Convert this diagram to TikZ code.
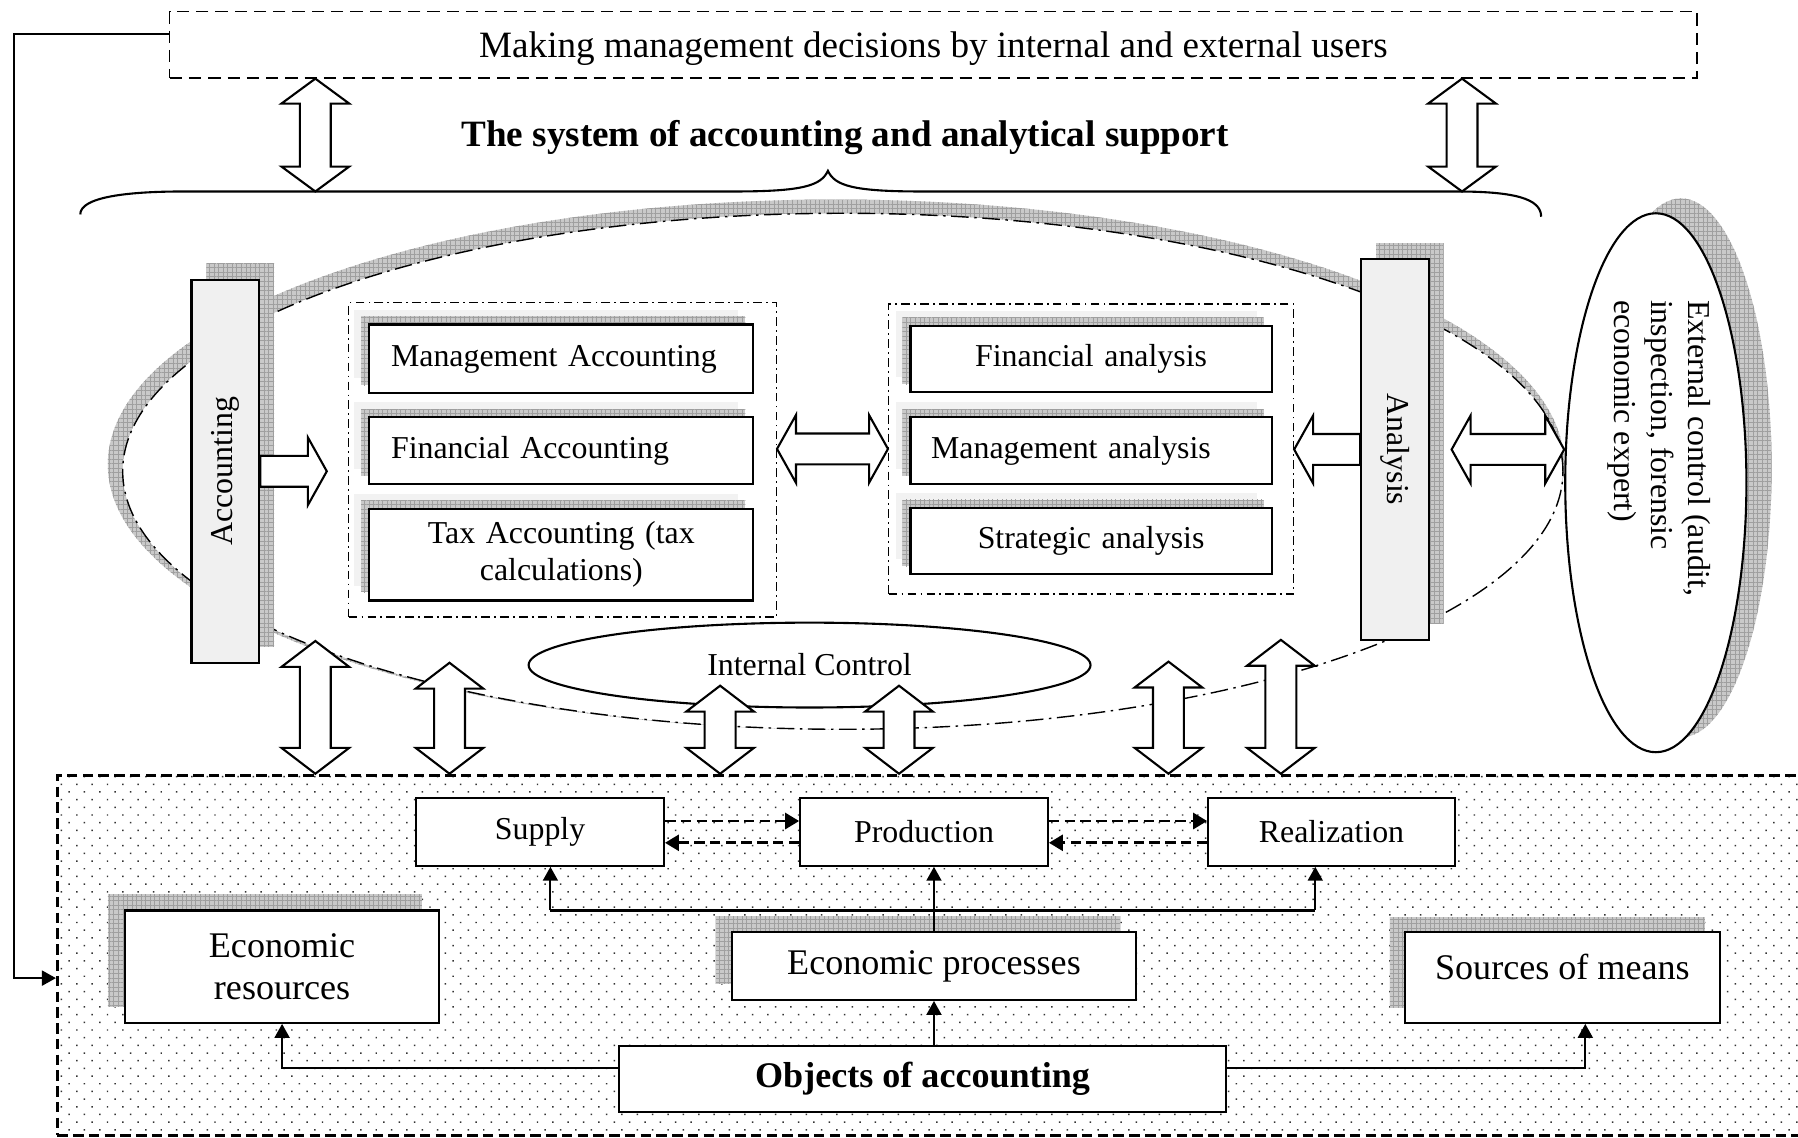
\documentclass[tikz,border=0pt]{standalone}
\usepackage{fontspec}
\setmainfont{Liberation Serif}
\usetikzlibrary{arrows.meta,calc,positioning,shapes.geometric,shadows,patterns.meta}

\newlength\pu
\setlength\pu{0.0115cm}
\newcommand\bigfont{\fontsize{10.6}{12.7}\selectfont}
\newcommand\midfont{\fontsize{10.3}{11.8}\selectfont}
\newcommand\boxfont{\fontsize{9.1}{10.6}\selectfont}

% hollow block arrows: head length, head and shaft half widths
\def\hlen{0.25cm}
\def\hwid{0.34cm}
\def\swid{0.155cm}

\newcommand{\dblarrow}[2]{%
  \coordinate (dA) at ($(#1)!\hlen!(#2)$);
  \coordinate (dB) at ($(#2)!\hlen!(#1)$);
  \draw[blockarr] (#1) -- ($(dA)!\hwid!90:(#2)$) -- ($(dA)!\swid!90:(#2)$)
    -- ($(dB)!\swid!-90:(#1)$) -- ($(dB)!\hwid!-90:(#1)$) -- (#2)
    -- ($(dB)!\hwid!90:(#1)$) -- ($(dB)!\swid!90:(#1)$)
    -- ($(dA)!\swid!-90:(#2)$) -- ($(dA)!\hwid!-90:(#2)$) -- cycle;}

\newcommand{\sglarrow}[2]{%
  \coordinate (sB) at ($(#2)!\hlen!(#1)$);
  \draw[blockarr] ($(#1)!\swid!-90:(#2)$) -- ($(sB)!\swid!90:(#1)$)
    -- ($(sB)!\hwid!90:(#1)$) -- (#2) -- ($(sB)!\hwid!-90:(#1)$)
    -- ($(sB)!\swid!-90:(#1)$) -- ($(#1)!\swid!90:(#2)$) -- cycle;}

\begin{document}
\begin{tikzpicture}[x=\pu, y=-\pu,
  grey shade/.style={fill=gray!42},
  grey grid/.style={pattern={Hatch[angle=0,distance=1.3pt,line width=0.2pt]}, pattern color=gray!75},
  castshadow/.style 2 args={general shadow={shadow xshift=#1\pu, shadow yshift=#2\pu, grey shade},
                            general shadow={shadow xshift=#1\pu, shadow yshift=#2\pu, grey grid}},
  lightshadow/.style 2 args={general shadow={shadow xshift=#1\pu, shadow yshift=#2\pu, fill=gray!10}},
  topbox/.style={draw, thin, dash pattern=on 3.5pt off 2pt, minimum width=1332\pu, minimum height=58\pu,
                 text depth=0pt, font=\bigfont},
  bar/.style={draw, semithick, fill=gray!12, font=\boxfont, minimum width=59\pu, inner sep=0pt, castshadow={13}{14}},
  grpbox/.style={draw, thin, dash pattern=on 2.5pt off 1.2pt on 0.5pt off 1.2pt, inner sep=0pt},
  subbox/.style={draw, semithick, fill=white, font=\boxfont, text width=297\pu, inner xsep=19\pu,
                 inner ysep=0pt, minimum height=60\pu, align=left, lightshadow={-13}{13}, castshadow={-7}{7}},
  anabox/.style={subbox, text width=279\pu, inner xsep=18\pu, minimum height=58\pu, align=center},
  extell/.style={ellipse, draw, semithick, fill=white, minimum width=158\pu, minimum height=470\pu,
                 inner sep=0pt, castshadow={22}{13}},
  dotarea/.style={draw, thick, dash pattern=on 3pt off 1.5pt, pattern={Dots[distance=3.1pt,angle=45,radius=0.3pt]},
                  pattern color=black!80, minimum width=1522\pu, minimum height=314\pu, inner sep=0pt},
  stagebox/.style={draw, semithick, fill=white, font=\boxfont, minimum width=216\pu, minimum height=59\pu},
  ecobox/.style={draw, semithick, fill=white, font=\midfont, align=center, inner sep=1pt},
  blockarr/.style={draw, semithick, fill=white, line join=miter},
  conn/.style={semithick, -{Triangle[length=1.4mm,width=1.5mm]}},
  flow/.style={thick, dash pattern=on 3pt off 1.5pt, -{Triangle[length=1.4mm,width=1.6mm]}}
]
\useasboundingbox (0,0) rectangle (1568,992);

% decisions on top
\node[topbox] (dec) at (814,39) {Making management decisions by internal and external users};

% title and brace
\node[font=\bigfont\bfseries] (title) at (737,120) {The system of accounting and analytical support};
\draw[semithick] (70,187) .. controls (70,172) and (110,167) .. (160,167) -- (640,167)
  .. controls (700,167) and (716,162) .. (722,149) .. controls (728,162) and (744,167) .. (804,167)
  -- (1270,167) .. controls (1320,167) and (1344,173) .. (1344,189);

\coordinate (ub1) at (275,167);
\coordinate (ub2) at (1275,167);
\coordinate (ut1) at (dec.south -| ub1);
\coordinate (ut2) at (dec.south -| ub2);
\dblarrow{ut1}{ub1}
\dblarrow{ut2}{ub2}

% big ellipse with its shadow
\fill[grey shade] (729,405) ellipse [x radius=635\pu, y radius=231\pu];
\fill[grey grid] (729,405) ellipse [x radius=635\pu, y radius=231\pu];
\draw[fill=white, thin, dash pattern=on 5pt off 1.6pt on 0.7pt off 1.6pt]
  (735,411) ellipse [x radius=628\pu, y radius=225\pu];

% accounting and analysis bars
\node[bar, minimum height=334\pu] (acc) at (196.5,411) {\rotatebox{90}{Accounting}};
\node[bar, minimum height=332\pu] (ana) at (1216.5,392) {\rotatebox{-90}{Analysis}};

% accounting group
\node[grpbox, minimum width=373\pu, minimum height=274\pu] (lgrp) at (490.5,401) {};
\node[subbox] (ma) at (489.5,313) {Management Accounting};
\node[subbox, minimum height=58\pu, below=19\pu of ma] (fa) {Financial Accounting};
\node[subbox, minimum height=80\pu, align=center, below=20\pu of fa] (ta) {Tax Accounting (tax\\calculations)};

% analysis group
\node[grpbox, minimum width=353\pu, minimum height=253\pu] (rgrp) at (951.5,391.5) {};
\node[anabox] (fan) at (951.5,313) {Financial analysis};
\node[anabox, align=left, below=20\pu of fan] (man) {Management analysis};
\node[anabox, below=19\pu of man] (san) {Strategic analysis};

% external control
\node[extell] (ext) at (1444,421) {};
\node[rotate=-90, align=left, font=\boxfont] (exttxt) at (1447,391)
  {External control (audit,\\inspection, forensic\\economic expert)};

% arrows in the middle
\def\hlen{0.19cm}
\coordinate (accend) at (285,411);
\coordinate (anaend) at (rgrp.east |- ana.west);
\coordinate (lgrpr) at (lgrp.east |- rgrp.west);
\coordinate (extl) at ($(ana.east)+(19,0)$);
\coordinate (extr) at (ext.west |- ana.east);
\sglarrow{acc.east}{accend}
\sglarrow{ana.west}{anaend}
\dblarrow{lgrpr}{rgrp.west}
\dblarrow{extl}{extr}

% internal control
\node[ellipse, draw, semithick, minimum width=490\pu, minimum height=74\pu, font=\boxfont] (ic) at (706,580) {Internal Control};

% objects of accounting area
\node[dotarea] (area) at (811,833) {};

\def\hlen{0.26cm}
\foreach \x/\y [count=\i] in {275/559, 392/578, 628/598, 784/598, 1019/577, 1117/558} {
  \coordinate (va\i) at (\x,\y);
  \coordinate (vb\i) at (va\i |- area.north);
  \dblarrow{va\i}{vb\i}
}

% feedback line
\coordinate (fbc) at (12,30);
\draw[conn] ($(dec.west)+(0,-9)$) -- (fbc) |- ($(area.west)+(0,20)$);

% stages
\node[stagebox] (sup) at (471,725.5) {Supply};
\node[stagebox, right=117\pu of sup] (pro) {Production};
\node[stagebox, minimum width=215\pu, right=138\pu of pro] (rea) {Realization};

\foreach \a/\b in {sup/pro, pro/rea} {
  \draw[flow] ($(\a.east)+(0,-9.5)$) -- ($(\b.west)+(0,-9.5)$);
  \draw[flow] ($(\b.west)+(0,9.5)$) -- ($(\a.east)+(0,9.5)$);
}

% economic boxes
\node[ecobox, minimum width=274\pu, minimum height=98\pu, castshadow={-15}{14}] (eres) at (246,843) {Economic\\resources};
\node[ecobox, minimum width=353\pu, minimum height=59\pu, castshadow={-14}{14}] (epro) at (814.5,842.5) {Economic processes};
\node[ecobox, minimum width=275\pu, minimum height=79\pu, text depth=6.2pt, castshadow={-13}{13}] (som) at (1362.5,852.5) {Sources of means};
\node[ecobox, minimum width=529\pu, minimum height=58\pu, font=\midfont\bfseries] (obj) at (804.5,941) {Objects of accounting};

% connectors
\coordinate (brl) at (480,794);
\coordinate (brr) at (1147,794);
\draw[conn] (epro.north) -- (epro.north |- pro.south);
\draw[semithick] (brl) -- (brr);
\draw[conn] (brl) -- (brl |- sup.south);
\draw[conn] (brr) -- (brr |- rea.south);
\draw[conn] (epro.south |- obj.north) -- (epro.south);
\draw[conn] ($(obj.west)+(0,-10)$) -| (eres.south);
\draw[conn] ($(obj.east)+(0,-10)$) -| ($(som.south)+(20,0)$);

\end{tikzpicture}
\end{document}
